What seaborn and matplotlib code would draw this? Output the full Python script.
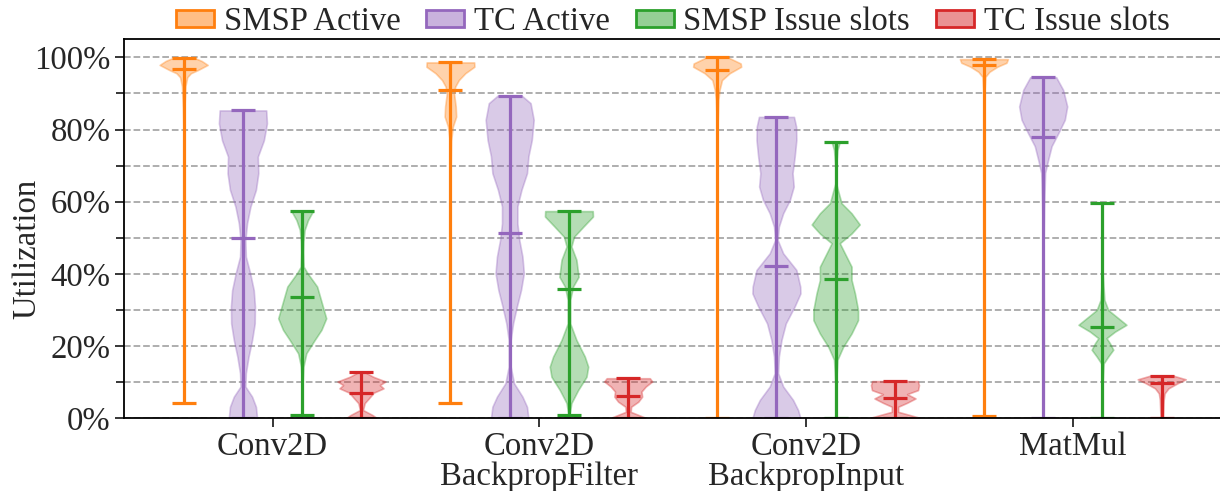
import numpy as np
import pandas as pd
import matplotlib
matplotlib.use("Agg")
import matplotlib.pyplot as plt
import seaborn as sns
from matplotlib.patches import Patch
from matplotlib.ticker import MultipleLocator, PercentFormatter

# ---------------- data ----------------
categories = ["Conv2D", "Conv2D\nBackpropFilter", "Conv2D\nBackpropInput", "MatMul"]
metrics = ["SMSP Active", "TC Active", "SMSP Issue slots", "TC Issue slots"]

# summary statistics per category (percent)
smsp_active_min = [4.2, 4.2, 0.2, 0.7]
smsp_active_max = [99.7, 98.6, 100.0, 99.5]
smsp_active_mean = [96.7, 90.9, 96.5, 97.9]

tc_active_min = [0.0, 0.0, 0.0, 0.0]
tc_active_max = [85.3, 89.4, 83.5, 94.5]
tc_active_mean = [50.0, 51.4, 42.1, 77.9]

smsp_issue_min = [0.9, 0.9, 0.2, 0.2]
smsp_issue_max = [57.4, 57.4, 76.6, 59.6]
smsp_issue_mean = [33.6, 35.8, 38.5, 25.2]

tc_issue_min = [0.2, 0.2, 0.2, 0.2]
tc_issue_max = [12.9, 11.1, 10.3, 11.8]
tc_issue_mean = [7.1, 6.3, 5.5, 9.7]

# density profiles: utilization levels and relative density (max = 1)
smsp_active_levels = [
    [4.2, 50, 80, 86, 88.6, 92, 94.5, 95.6, 96.5, 97.9, 99, 99.7],
    [4.2, 50, 70, 77, 80.8, 83.6, 86.4, 90, 91.9, 93.7, 95.6, 97.4, 98.6],
    [0.2, 50, 80, 88.2, 91, 93.7, 95.6, 97.4, 98.3, 100],
    [0.7, 50, 90, 94.6, 96, 97.4, 98.5, 99.5],
]
smsp_active_density = [
    [0.005, 0.005, 0.01, 0.03, 0.05, 0.07, 0.15, 0.3, 0.6, 1.0, 0.75, 0.5],
    [0.005, 0.005, 0.01, 0.03, 0.1, 0.24, 0.22, 0.15, 0.2, 0.35, 0.62, 1.0, 0.99],
    [0.005, 0.005, 0.01, 0.05, 0.1, 0.2, 0.52, 1.0, 0.98, 0.45],
    [0.01, 0.01, 0.02, 0.06, 0.23, 0.56, 0.94, 1.0],
]

tc_active_levels = [
    [0, 3.2, 6, 8.8, 12.5, 17, 21.7, 26.3, 31, 35.5, 40.2, 44.8, 49.4, 54, 58.6,
     63.3, 67.9, 72.5, 77, 81.7, 85.3],
    [0, 3.2, 6, 9.7, 14.3, 21.7, 26.3, 31, 35.5, 40.2, 44.8, 49.4, 54, 58.7,
     63.3, 67.9, 72.6, 77.1, 82.7, 87.3, 89.4],
    [0, 2.3, 5.1, 8.8, 12.5, 17.1, 21.7, 26.3, 31, 34.6, 36.5, 41.1, 45.7, 49.4,
     53.1, 56.8, 60.5, 64.2, 67.9, 72.5, 77.1, 80.8, 83.5],
    [0, 20, 49.4, 58.7, 68, 71.7, 75.4, 79, 82.7, 86.4, 91, 94.5],
]
tc_active_density = [
    [0.59, 0.54, 0.38, 0.1, 0.12, 0.23, 0.38, 0.49, 0.5, 0.45, 0.3, 0.12, 0.1,
     0.17, 0.31, 0.54, 0.64, 0.62, 0.87, 1.0, 0.97],
    [0.78, 0.72, 0.53, 0.18, 0.04, 0.04, 0.14, 0.3, 0.47, 0.59, 0.53, 0.4, 0.32,
     0.32, 0.49, 0.72, 0.78, 0.92, 1.0, 0.87, 0.5],
    [1.0, 0.9, 0.69, 0.28, 0.07, 0.1, 0.21, 0.39, 0.76, 1.0, 0.99, 0.83, 0.28,
     0.05, 0.1, 0.28, 0.56, 0.72, 0.67, 0.76, 0.83, 0.82, 0.73],
    [0.02, 0.03, 0.02, 0.04, 0.08, 0.21, 0.35, 0.63, 0.9, 1.0, 0.83, 0.54],
]

smsp_issue_levels = [
    [0.9, 10, 14.3, 18, 21.7, 24.5, 27.7, 30, 32.8, 36.5, 40.2, 42, 46, 49,
     52.2, 54.9, 57.4],
    [0.9, 4.2, 7.8, 11.5, 14.3, 17.1, 21.7, 26.3, 32.8, 36.5, 39.2, 43.9, 47.6,
     50.3, 53.1, 55.9, 57.4],
    [0.2, 10, 16.2, 19.8, 23.5, 27.2, 30, 34.6, 38.3, 42, 45.7, 48.5, 51.2, 53.7,
     56.8, 59.6, 65, 70, 74.3, 76.6],
    [0.2, 10, 15.2, 17.1, 19, 20.8, 22.2, 24, 25.9, 27.2, 30, 32.8, 40, 59.6],
]
smsp_issue_density = [
    [0.02, 0.02, 0.05, 0.17, 0.52, 0.8, 1.0, 0.9, 0.78, 0.62, 0.22, 0.06, 0.04,
     0.05, 0.1, 0.24, 0.45],
    [0.02, 0.1, 0.38, 0.73, 0.8, 0.66, 0.31, 0.05, 0.05, 0.17, 0.4, 0.31, 0.1,
     0.21, 0.6, 1.0, 0.99],
    [0.02, 0.02, 0.07, 0.31, 0.66, 0.93, 0.93, 0.8, 0.66, 0.66, 0.38, 0.17,
     0.66, 1.0, 0.66, 0.24, 0.02, 0.02, 0.07, 0.17],
    [0.01, 0.01, 0.05, 0.24, 0.45, 0.31, 0.17, 0.52, 1.0, 0.76, 0.24, 0.08,
     0.01, 0.01],
]

tc_issue_levels = [
    [0.2, 0.9, 2.3, 4.2, 5.5, 7.1, 8.3, 9.2, 10.2, 11.5, 12.9],
    [0.2, 0.6, 1.8, 3.2, 4.6, 6.0, 7.4, 8.8, 10.2, 11.1],
    [0.2, 0.6, 1.8, 3.2, 4.3, 5.5, 6.7, 7.8, 9.2, 10.3],
    [0.2, 5.1, 6.9, 8.3, 9.7, 10.8, 11.8],
]
tc_issue_density = [
    [0.6, 0.45, 0.06, 0.13, 0.3, 0.5, 0.9, 0.75, 0.98, 0.48, 0.1],
    [0.7, 0.55, 0.1, 0.12, 0.42, 0.58, 0.55, 0.73, 1.0, 0.9],
    [0.97, 0.76, 0.13, 0.13, 0.49, 0.83, 0.49, 0.93, 0.97, 0.92],
    [0.05, 0.08, 0.12, 0.28, 0.66, 1.0, 0.49],
]

series = [
    (smsp_active_levels, smsp_active_density, smsp_active_min, smsp_active_max, smsp_active_mean),
    (tc_active_levels, tc_active_density, tc_active_min, tc_active_max, tc_active_mean),
    (smsp_issue_levels, smsp_issue_density, smsp_issue_min, smsp_issue_max, smsp_issue_mean),
    (tc_issue_levels, tc_issue_density, tc_issue_min, tc_issue_max, tc_issue_mean),
]

# ---------------- style ----------------
sns.set_theme(style="ticks")
plt.rcParams["font.family"] = ["Liberation Serif", "DejaVu Serif"]
FS = 23.6

pal = sns.color_palette("tab10")
colors = [pal[1], pal[4], pal[2], pal[3]]

W, H = 1220, 491
fig = plt.figure(figsize=(W / 100, H / 100), dpi=100)
ax = fig.add_axes([124 / W, 1 - 418.3 / H, (1221.4 - 124) / W, (418.3 - 39.3) / H])

x = np.arange(len(categories))
offsets = [-1 / 3, -1 / 9, 1 / 9, 1 / 3]
vwidth = 0.18

for j, (levels, dens, vmin, vmax, vmean) in enumerate(series):
    stats = []
    for i in range(len(categories)):
        stats.append({
            "coords": np.array(levels[i], dtype=float),
            "vals": np.array(dens[i], dtype=float),
            "mean": vmean[i],
            "median": vmean[i],
            "min": vmin[i],
            "max": vmax[i],
        })
    parts = ax.violin(stats, positions=x + offsets[j], widths=vwidth,
                      showmeans=True, showextrema=True, showmedians=False)
    c = colors[j]
    for body in parts["bodies"]:
        body.set_facecolor(c)
        body.set_edgecolor(c)
        body.set_alpha(0.35)
        body.set_linewidth(1.2)
    for key in ("cmeans", "cmins", "cmaxes", "cbars"):
        parts[key].set_color(c)
        parts[key].set_linewidth(2.3)

ax.set_xlim(-0.557, 3.557)
ax.set_ylim(0, 105)
ax.set_xticks(x)
ax.set_xticklabels(categories, fontsize=FS, linespacing=0.96)
ax.yaxis.set_major_locator(MultipleLocator(20))
ax.yaxis.set_minor_locator(MultipleLocator(10))
ax.yaxis.set_major_formatter(PercentFormatter(decimals=0))
ax.tick_params(axis="y", labelsize=FS)
ax.tick_params(which="major", length=6.5, width=1.1, direction="out", pad=3, color="black")
ax.tick_params(which="minor", length=6.0, width=1.1, direction="out", color="black")
ax.yaxis.grid(True, which="both", linestyle="--", color="#a8a8a8", linewidth=1.3)
ax.set_axisbelow(True)

for side in ("left", "top", "bottom"):
    ax.spines[side].set_color("black")
    ax.spines[side].set_linewidth(1.3)
ax.spines["right"].set_visible(False)

ax.set_ylabel("Utilization", fontsize=FS)
ax.yaxis.set_label_coords(-0.0747, 0.447)

handles = [Patch(facecolor=(*c, 0.5), edgecolor=c, linewidth=2.0) for c in colors]
ax.legend(handles, metrics, ncol=4, frameon=False, loc="center",
          bbox_to_anchor=(0.5, 1.0457), borderaxespad=0, fontsize=FS,
          handlelength=1.16, handleheight=0.4, handletextpad=0.3,
          columnspacing=0.78)

fig.savefig("out.png", dpi=100)
